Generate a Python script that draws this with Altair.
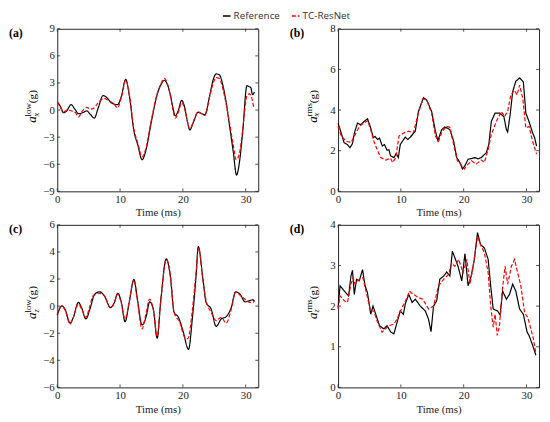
import altair as alt
import pandas as pd

SERIES = ["Reference", "TC-ResNet"]
COLORS = ["#000000", "#ff0000"]
X_TICKS = [0, 10, 20, 30]

# (a) a_x low
A_REF_T = [0, 0.5, 1.0, 1.5, 2.2, 2.8, 3.4, 4.0, 4.7, 5.3, 5.9, 6.5, 7.3, 8.0, 8.6, 9.6, 10.2, 10.9, 11.5, 12.2, 12.8, 13.5, 14.2, 14.9, 15.9, 16.5, 17.05, 17.5, 18.0, 18.4, 18.8, 19.3, 19.8, 20.3, 20.7, 21.1, 21.7, 22.4, 23.0, 23.5, 24.3, 24.8, 25.3, 25.8, 26.35, 26.9, 27.4, 28.0, 28.55, 29.0, 29.5, 30.2, 30.5, 30.8, 31.1, 31.4]
A_REF_V = [0.9, 0.4, -0.3, -0.1, 0.6, 0.1, -0.4, -0.3, -0.1, -0.5, -0.9, 0.2, 1.6, 1.3, 0.8, 0.6, 1.5, 3.4, 1.5, -2.3, -3.8, -5.5, -4.2, -1.6, 1.7, 2.8, 3.3, 2.9, 1.7, 0.3, -0.65, 0.0, 1.08, 0.25, -1.2, -2.2, -1.3, -0.25, -0.4, -0.5, 1.7, 3.3, 4.0, 3.9, 2.8, 0.8, -1.6, -4.5, -7.2, -5.8, -2.6, 2.7, 2.6, 2.5, 1.7, 2.0]
A_PRED_T = [0, 0.5, 1.0, 1.6, 2.3, 2.9, 3.4, 4.0, 4.7, 5.3, 5.8, 6.5, 7.5, 8.3, 9.0, 9.6, 10.2, 10.9, 11.5, 12.2, 12.8, 13.5, 14.2, 14.9, 15.9, 16.5, 17.05, 17.5, 18.0, 18.4, 18.8, 19.3, 19.8, 20.3, 20.7, 21.1, 21.7, 22.4, 23.0, 23.5, 24.3, 24.8, 25.3, 25.8, 26.35, 26.9, 27.4, 28.0, 28.5, 29.0, 29.5, 30.2, 30.6, 30.9, 31.3]
A_PRED_V = [0.9, 0.3, -0.2, 0.0, -0.1, -0.3, -0.75, -0.1, 0.3, 0.1, 0.2, 0.8, 1.3, 1.0, 0.7, 0.25, 1.4, 3.3, 1.6, -2.1, -3.6, -5.2, -4.0, -1.4, 1.8, 2.9, 3.5, 3.0, 1.6, 0.1, -0.9, -0.2, 0.8, 0.1, -1.2, -2.1, -1.2, -0.2, -0.4, -0.6, 1.6, 2.9, 3.6, 3.5, 2.4, 0.6, -1.3, -3.8, -5.5, -4.8, -2.3, 1.6, 1.8, 1.5, 0.2]

# (b) a_x rms
B_REF_T = [0, 0.5, 0.95, 1.5, 1.9, 2.3, 2.6, 3.1, 3.6, 4.15, 4.7, 5.2, 5.6, 5.9, 6.3, 6.6, 7.05, 7.4, 7.8, 8.1, 8.35, 8.9, 9.25, 9.6, 9.9, 10.7, 11.1, 11.5, 12.3, 12.8, 13.6, 14.1, 14.9, 15.5, 15.9, 16.5, 17.0, 17.8, 18.4, 18.9, 19.4, 19.8, 20.2, 20.7, 21.3, 21.8, 22.3, 22.8, 23.6, 24.0, 24.4, 25.0, 25.7, 26.4, 26.8, 27.0, 27.4, 27.8, 28.3, 28.9, 29.5, 29.9, 30.4, 30.97, 31.3, 31.6]
B_REF_V = [3.36, 2.88, 2.4, 2.3, 2.15, 2.35, 2.88, 3.36, 3.28, 3.44, 3.57, 3.12, 2.64, 2.7, 2.55, 2.62, 2.23, 2.3, 2.02, 2.05, 1.75, 1.66, 1.86, 1.66, 2.3, 2.67, 2.55, 2.67, 2.96, 3.93, 4.61, 4.5, 3.93, 2.96, 2.5, 3.04, 3.17, 3.04, 2.47, 1.66, 1.42, 1.1, 1.26, 1.58, 1.62, 1.66, 1.6, 1.66, 1.9, 2.3, 3.44, 3.85, 3.85, 3.68, 3.04, 2.92, 3.77, 4.9, 5.42, 5.58, 5.39, 3.85, 3.44, 2.88, 2.64, 2.23]
B_PRED_T = [0, 0.5, 1.3, 2.05, 2.6, 3.4, 4.1, 4.7, 5.2, 5.7, 6.3, 6.8, 7.6, 8.35, 8.7, 9.2, 9.7, 10.5, 11.25, 12.0, 12.7, 13.5, 14.1, 14.9, 15.5, 16.0, 16.6, 17.3, 17.8, 18.4, 19.0, 19.5, 20.1, 20.7, 21.25, 22.0, 22.8, 23.3, 23.9, 24.4, 25.2, 26.0, 26.5, 27.0, 27.5, 28.1, 28.5, 28.9, 29.4, 29.9, 30.4, 30.97, 31.6]
B_PRED_V = [3.2, 2.72, 2.47, 2.4, 2.72, 3.2, 3.36, 3.47, 3.04, 2.47, 1.99, 1.66, 1.54, 1.63, 1.42, 1.66, 2.72, 2.88, 2.96, 2.88, 3.77, 4.55, 4.5, 3.85, 2.72, 2.47, 2.96, 3.2, 3.15, 2.3, 1.5, 1.34, 1.1, 1.34, 1.5, 1.34, 1.54, 1.42, 2.07, 2.8, 3.44, 3.93, 3.68, 3.93, 4.74, 4.98, 4.74, 5.23, 4.58, 3.12, 3.2, 2.47, 1.83]

# (c) a_z low
C_REF_T = [0, 0.73, 1.25, 2.04, 2.56, 3.35, 3.87, 4.55, 5.2, 5.96, 6.75, 7.5, 8.47, 9.1, 9.62, 10.15, 10.8, 11.45, 12.2, 12.76, 13.5, 14.2, 14.7, 15.3, 15.9, 16.5, 17.36, 18.0, 18.6, 19.3, 20.0, 20.9, 21.5, 22.1, 22.45, 23.2, 23.7, 24.5, 25.3, 26.1, 26.9, 27.7, 28.4, 29.1, 29.9, 30.5, 31.1, 31.4]
C_REF_V = [-0.66, 0.02, -0.24, -1.25, -0.83, 0.27, -0.1, -0.95, -0.22, 0.88, 1.05, 0.76, -0.1, 0.27, 0.95, 0.39, -1.15, 0.27, 1.97, 0.51, -1.39, -0.7, 0.32, -0.22, -2.37, 0.51, 3.49, 2.22, -0.46, -0.83, -1.8, -3.19, -0.95, 2.22, 4.4, 1.97, 0.27, -0.22, -1.5, -0.95, -0.78, -0.1, 1.05, 0.88, 0.32, 0.39, 0.46, 0.39]
C_PRED_T = [0, 0.73, 1.25, 2.04, 2.56, 3.35, 3.87, 4.55, 5.2, 5.7, 6.75, 7.5, 8.47, 9.1, 9.62, 10.15, 10.8, 11.45, 12.2, 12.76, 13.5, 14.1, 14.7, 15.3, 15.9, 16.5, 17.36, 18.0, 18.6, 19.5, 20.3, 20.8, 21.5, 22.1, 22.5, 23.2, 23.7, 24.5, 25.3, 26.1, 26.9, 27.7, 28.4, 29.1, 29.9, 30.5, 31.1, 31.4]
C_PRED_V = [-0.59, 0.0, -0.3, -1.32, -0.83, 0.15, -0.2, -0.83, 0.02, 0.76, 0.93, 0.76, -0.15, 0.3, 0.9, 0.3, -0.95, 0.3, 1.93, 0.4, -1.68, -0.6, 0.51, -0.3, -2.22, 0.5, 3.44, 2.3, -0.46, -1.2, -2.3, -2.4, -0.34, 2.47, 4.3, 1.85, 0.4, -0.46, -1.07, -0.83, -1.25, -0.24, 1.05, 0.8, 0.51, 0.3, 0.27, 0.39]

# (d) a_z rms
D_REF_T = [0, 0.32, 1.0, 1.68, 2.05, 2.3, 2.58, 2.95, 3.37, 3.9, 4.3, 4.68, 5.2, 5.57, 6.0, 6.6, 7.3, 7.8, 8.4, 8.9, 9.4, 9.9, 10.4, 10.7, 11.25, 11.8, 12.3, 13.1, 13.9, 14.4, 14.8, 15.2, 15.7, 16.2, 16.8, 17.3, 17.8, 18.2, 18.6, 19.1, 19.7, 20.2, 20.7, 21.2, 21.7, 22.2, 22.7, 23.3, 23.9, 24.3, 24.7, 25.4, 25.8, 26.2, 26.8, 27.3, 27.8, 28.3, 28.9, 29.5, 30.1, 30.4, 31.0, 31.5]
D_REF_V = [1.97, 2.5, 2.37, 2.25, 2.74, 2.88, 2.29, 2.66, 2.62, 2.9, 2.5, 2.33, 1.8, 2.0, 1.8, 1.52, 1.44, 1.52, 1.36, 1.32, 1.6, 1.88, 1.8, 2.05, 2.29, 2.09, 2.17, 2.0, 1.88, 1.68, 1.37, 2.0, 2.13, 2.66, 2.74, 2.84, 2.74, 3.35, 3.19, 2.98, 2.62, 3.29, 2.5, 2.74, 3.15, 3.81, 3.51, 3.43, 3.15, 2.5, 1.93, 1.88, 1.78, 2.37, 2.17, 2.29, 2.54, 2.37, 1.93, 1.8, 1.36, 1.28, 1.03, 0.79]
D_PRED_T = [0, 0.32, 1.0, 1.5, 2.05, 2.4, 2.7, 3.37, 3.95, 4.5, 5.2, 5.7, 6.2, 7.0, 8.1, 8.9, 9.4, 10.2, 11.0, 11.35, 12.0, 12.8, 13.5, 14.4, 15.2, 16.0, 16.8, 17.6, 18.1, 18.6, 19.2, 19.9, 20.5, 21.0, 21.5, 22.2, 22.8, 23.3, 23.9, 24.3, 24.7, 25.0, 25.35, 25.7, 26.2, 26.6, 27.0, 27.6, 28.1, 28.6, 29.1, 29.7, 30.2, 30.7, 31.1, 31.5]
D_PRED_V = [1.93, 2.25, 2.13, 2.09, 2.54, 2.7, 2.54, 2.66, 2.7, 2.33, 1.88, 1.88, 1.64, 1.36, 1.52, 1.56, 1.68, 1.97, 2.21, 2.37, 2.29, 2.21, 2.17, 1.93, 2.0, 2.5, 2.66, 2.78, 3.06, 2.98, 3.15, 2.82, 3.15, 2.54, 2.98, 3.71, 3.47, 3.31, 2.82, 2.0, 1.48, 1.8, 1.28, 1.52, 2.46, 2.98, 2.54, 2.98, 3.15, 2.82, 2.5, 1.84, 1.72, 1.44, 1.2, 0.83]

W, H = 204, 165
AX = "#262626"
SERIF = "Liberation Serif"

LEGEND = alt.Legend(
    title=None, orient="none", legendX=167, legendY=-18, direction="horizontal",
    symbolType="stroke", symbolSize=60, symbolStrokeWidth=1.5,
    labelFont="Open Sans", labelFontSize=10, labelColor="#333333",
    labelOffset=2, columnPadding=8, padding=0,
)

AXIS_COMMON = dict(
    domain=False, grid=False, ticks=False, labelOverlap=False, labelFlush=False,
    labelFont=SERIF, labelFontSize=11, labelFontWeight="normal", labelColor="#1a1a1a",
    titleFont=SERIF, titleFontSize=11, titleFontWeight="normal", titleColor="#1a1a1a",
)


def panel(tag, sub, sup, ref_t, ref_v, pred_t, pred_v, y_dom, y_ticks, interp):
    df = pd.DataFrame({
        "t": ref_t + pred_t,
        "v": ref_v + pred_v,
        "series": [SERIES[0]] * len(ref_t) + [SERIES[1]] * len(pred_t),
    })
    xs = alt.Scale(domain=[0, 32], nice=False, zero=False)
    ys = alt.Scale(domain=y_dom, nice=False, zero=False)
    lines = alt.Chart(df).mark_line(interpolate=interp, strokeWidth=1.2).encode(
        x=alt.X("t:Q", scale=xs, axis=alt.Axis(values=X_TICKS, title="Time (ms)",
                                                labelPadding=2, titlePadding=3, **AXIS_COMMON)),
        y=alt.Y("v:Q", scale=ys, axis=alt.Axis(values=y_ticks, title=None,
                                                labelPadding=3, **AXIS_COMMON)),
        color=alt.Color("series:N", scale=alt.Scale(domain=SERIES, range=COLORS), legend=LEGEND),
        strokeDash=alt.StrokeDash("series:N", scale=alt.Scale(domain=SERIES, range=[[1, 0], [4, 2]]), legend=LEGEND),
    )
    xt = pd.DataFrame({"t": X_TICKS})
    yt = pd.DataFrame({"v": y_ticks})
    rule = dict(color=AX, strokeWidth=0.8)
    tb = alt.Chart(xt).mark_rule(**rule).encode(x=alt.X("t:Q", scale=xs, axis=None), y=alt.value(H), y2=alt.value(H - 3))
    tt = alt.Chart(xt).mark_rule(**rule).encode(x=alt.X("t:Q", scale=xs, axis=None), y=alt.value(0), y2=alt.value(3))
    tl = alt.Chart(yt).mark_rule(**rule).encode(y=alt.Y("v:Q", scale=ys, axis=None), x=alt.value(0), x2=alt.value(3))
    tr = alt.Chart(yt).mark_rule(**rule).encode(y=alt.Y("v:Q", scale=ys, axis=None), x=alt.value(W), x2=alt.value(W - 3))

    def txt(s, dx, dy, size, style="normal"):
        return alt.Chart(pd.DataFrame({"s": [s]})).mark_text(
            angle=270, align="left", baseline="alphabetic", dx=dx, dy=dy,
            font=SERIF, fontSize=size, fontStyle=style, color="#000000",
        ).encode(text="s:N", x=alt.value(-21.5), y=alt.value(H / 2))

    ytitle = [
        txt("a", -13, 0, 13, "italic"),
        txt(sub, -6.5, 2.5, 8.5, "italic"),
        txt(sup, -6.5, -5, 9),
        txt("(g)", 7, 0, 11.5),
    ]
    label = alt.Chart(pd.DataFrame({"s": [tag]})).mark_text(
        align="left", baseline="middle", font=SERIF, fontSize=12, fontWeight="bold", color="#000000"
    ).encode(text="s:N", x=alt.value(-49), y=alt.value(4))
    return alt.layer(lines, tb, tt, tl, tr, *ytitle, label).resolve_axis(
        x="independent", y="independent"
    ).properties(width=W, height=H)


pa = panel("(a)", "x", "low", A_REF_T, A_REF_V, A_PRED_T, A_PRED_V, [-9, 9], [-9, -6, -3, 0, 3, 6, 9], "monotone")
pb = panel("(b)", "x", "rms", B_REF_T, B_REF_V, B_PRED_T, B_PRED_V, [0, 8], [0, 2, 4, 6, 8], "linear")
pc = panel("(c)", "z", "low", C_REF_T, C_REF_V, C_PRED_T, C_PRED_V, [-6, 6], [-6, -4, -2, 0, 2, 4, 6], "monotone")
pd_ = panel("(d)", "z", "rms", D_REF_T, D_REF_V, D_PRED_T, D_PRED_V, [0, 4], [0, 1, 2, 3, 4], "linear")

chart = alt.concat(
    pa, pb, pc, pd_, columns=2, spacing={"row": 34, "column": 81}, bounds="flush",
).properties(
    padding={"left": 0, "top": 0, "right": 2, "bottom": 2}, background="white"
).configure_view(
    stroke=AX, strokeWidth=1
).configure_axis(
    **AXIS_COMMON
)

chart.save("out.html", embed_options={"renderer": "svg", "actions": False})
